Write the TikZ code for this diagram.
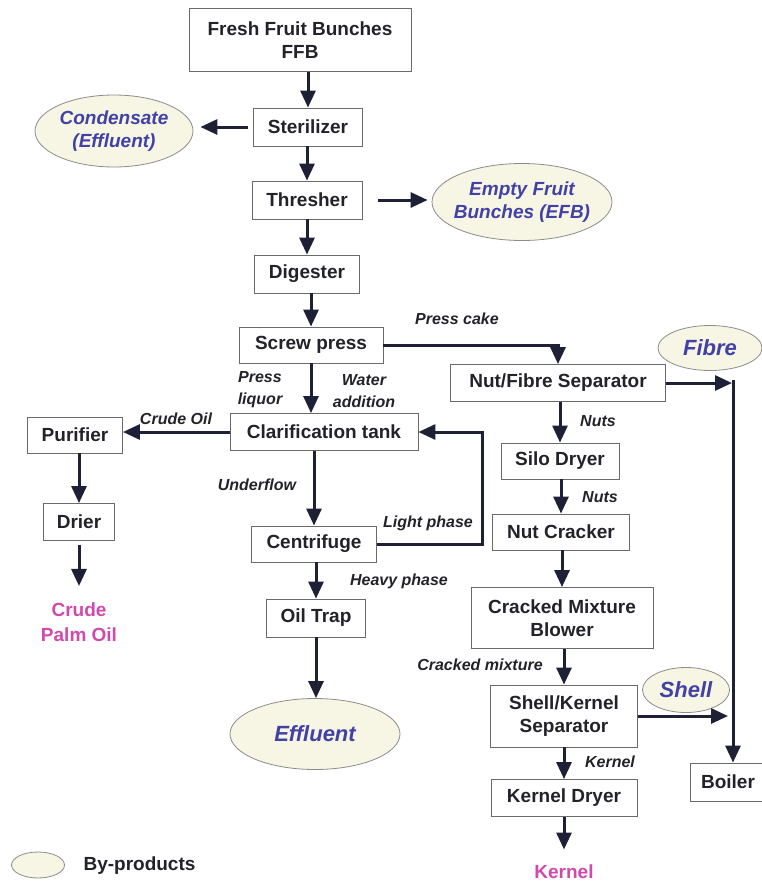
\documentclass[tikz,border=0pt]{standalone}
\usepackage{fontspec}
\setmainfont{Liberation Sans}
\usetikzlibrary{arrows.meta,shapes.geometric}
\definecolor{boxline}{HTML}{6A6A6A}
\definecolor{inkdark}{HTML}{222228}
\definecolor{flowdark}{HTML}{1E2036}
\definecolor{ellfill}{HTML}{F7F5E3}
\definecolor{ellline}{HTML}{8C8C8C}
\definecolor{byblue}{HTML}{4242A6}
\definecolor{prodpink}{HTML}{D04AAE}

\begin{document}
\begin{tikzpicture}[x=1pt,y=-1pt,
	box/.style={draw=boxline, line width=0.9pt, text=inkdark, align=center,
		font=\bfseries\fontsize{19}{23}\selectfont, inner sep=0pt},
	byprod/.style={ellipse, draw=ellline, fill=ellfill, line width=0.8pt, text=byblue,
		align=center, inner xsep=-5pt, inner ysep=0pt,
		font=\bfseries\itshape\fontsize{19}{23}\selectfont},
	bigprod/.style={byprod, font=\bfseries\itshape\fontsize{22}{26}\selectfont},
	product/.style={text=prodpink, align=center, font=\bfseries\fontsize{19}{25}\selectfont},
	lab/.style={text=inkdark, align=center, font=\bfseries\itshape\fontsize{16}{22}\selectfont},
	flow/.style={draw=flowdark, line width=3pt, -{Triangle[length=17pt,width=15pt]}}]
\useasboundingbox (0,0) rectangle (762,884);

% main line
\node[box, minimum width=222, minimum height=63] (ffb) at (300,40) {Fresh Fruit Bunches\\FFB};
\node[box, minimum width=109, minimum height=38] (st) at (308,127) {Sterilizer};
\node[box, minimum width=110, minimum height=38] (th) at (307,200) {Thresher};
\node[box, minimum width=105, minimum height=38] (dg) at (307,274) {Digester};
\node[box, minimum width=144, minimum height=36] (sp) at (311,345) {Screw press};
\node[box, minimum width=188, minimum height=37] (ct) at (324,432) {Clarification tank};
\node[box, minimum width=125, minimum height=36] (cf) at (314,544) {Centrifuge};
\node[box, minimum width=99, minimum height=38] (ot) at (316,618) {Oil Trap};

% oil side
\node[box, minimum width=95, minimum height=36] (pu) at (75,435) {Purifier};
\node[box, minimum width=71, minimum height=37] (dr) at (79,522) {Drier};
\node[product] (cpo) at (79,622) {Crude\\Palm Oil};

% nut side
\node[box, minimum width=215, minimum height=37] (nfs) at (558,383) {Nut/Fibre Separator};
\node[box, minimum width=118, minimum height=36] (sd) at (560,461) {Silo Dryer};
\node[box, minimum width=137, minimum height=36] (nc) at (561,532) {Nut Cracker};
\node[box, minimum width=182, minimum height=61] (cmb) at (562,618) {Cracked Mixture\\Blower};
\node[box, minimum width=147, minimum height=62] (sks) at (564,716) {Shell/Kernel\\Separator};
\node[box, minimum width=146, minimum height=37] (kd) at (564,798) {Kernel Dryer};
\node[product] (kern) at (564,872) {Kernel};
\node[box, minimum width=76, minimum height=38] (boil) at (728,782) {Boiler};

% by-products
\node[byprod, minimum width=158, minimum height=72] (cond) at (114,131) {Condensate\\(Effluent)};
\node[byprod, minimum width=180, minimum height=77] (efb) at (522,202) {Empty Fruit\\Bunches (EFB)};
\node[bigprod, minimum width=170, minimum height=71] (eff) at (315,734) {Effluent};
\node[bigprod, minimum width=104, minimum height=45] (fib) at (710,348) {Fibre};
\node[bigprod, minimum width=87, minimum height=45] (shl) at (686,690) {Shell};

% stream labels
\node[lab] (cake) at (457,319) {Press cake};
\node[lab] (liq) at (260,390) {Press\\liquor};
\node[lab] (wat) at (364,391) {Water\\addition};
\node[lab] (coil) at (176,419) {Crude Oil};
\node[lab] (under) at (257,485) {Underflow};
\node[lab] (light) at (428,523) {Light phase};
\node[lab] (heavy) at (399,581) {Heavy phase};
\node[lab] (nuts1) at (598,421) {Nuts};
\node[lab] (nuts2) at (600,497) {Nuts};
\node[lab] (cmix) at (480,665) {Cracked mixture};
\node[lab] (kl) at (610,762) {Kernel};

\coordinate (fibj) at (733,380);
\coordinate (lp) at (482,544);

% connectors
\draw[flow] (ffb.south -| st.north) -- (st.north);
\draw[flow] (st.south -| th.north) -- (th.north);
\draw[flow] (th.south) -- (dg.north);
\draw[flow] (dg.south -| sp.north) -- (sp.north);
\draw[flow] (sp.south) -- (sp.south |- ct.north);
\draw[flow] (ct.south -| cf.north) -- (cf.north);
\draw[flow] (cf.south -| ot.north) -- (ot.north);
\draw[flow] (ot.south) -- (ot.south |- eff.north);
\draw[flow, shorten <=5pt, shorten >=7pt] (st.west) -- (cond.east |- st.west);
\draw[flow, shorten <=16pt, shorten >=4pt] (th.east) -- (efb.west |- th.east);
\draw[flow] (ct.west) -- (pu.east |- ct.west);
\draw[flow] (pu.south -| dr.north) -- (dr.north);
\draw[flow, shorten <=4pt, shorten >=13pt] (dr.south) -- (dr.south |- cpo.north);
\draw[flow] (cf.east) -- (lp) |- (ct.east);
\draw[flow] (sp.east) -| (nfs.north);
\draw[flow] (nfs.south -| sd.north) -- (sd.north);
\draw[flow] (sd.south -| nc.north) -- (nc.north);
\draw[flow] (nc.south -| cmb.north) -- (cmb.north);
\draw[flow] (cmb.south -| sks.north) -- (sks.north);
\draw[flow] (sks.south) -- (kd.north);
\draw[flow, shorten >=12pt] (kd.south) -- (kd.south |- kern.north);
\draw[flow, shorten >=1pt] (nfs.east) -- (fibj |- nfs.east);
\draw[flow, shorten >=5pt] (sks.east) -- (fibj |- sks.east);
\draw[flow] (fibj) -- (boil.north -| fibj);

% legend
\node[ellipse, draw=ellline, fill=ellfill, line width=0.8pt, minimum width=53, minimum height=26] (key) at (38,865) {};
\node[text=inkdark, anchor=west, font=\bfseries\fontsize{19}{23}\selectfont] (keytext) at (80,866) {By-products};
\end{tikzpicture}
\end{document}
